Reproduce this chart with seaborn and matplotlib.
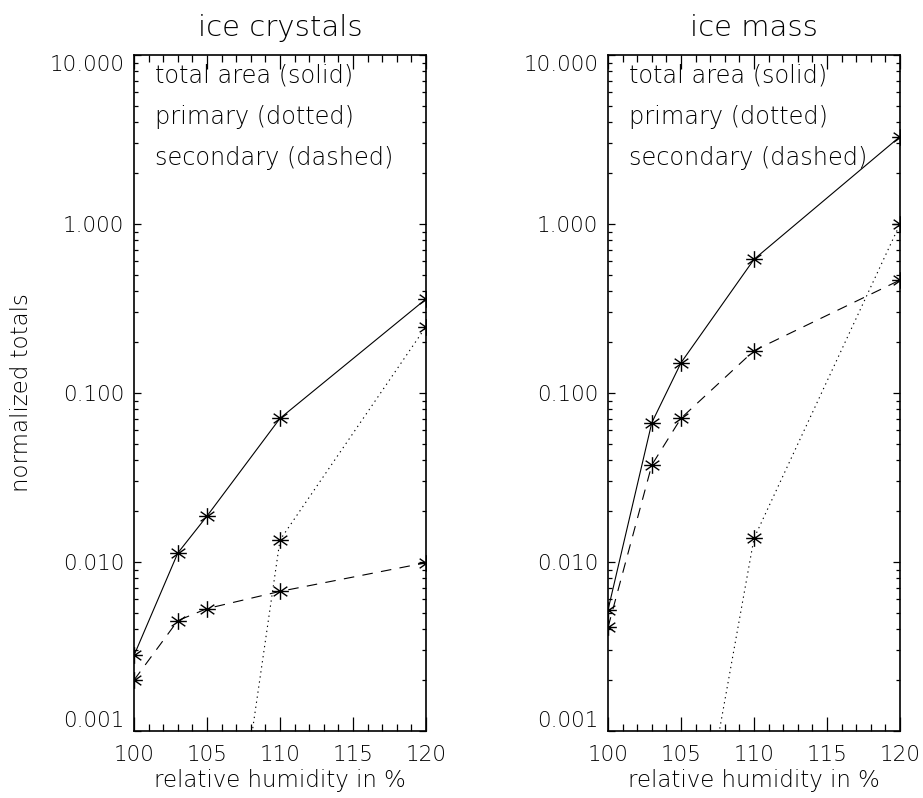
import numpy as np
import pandas as pd
import matplotlib
matplotlib.use("Agg")
import matplotlib.pyplot as plt
from matplotlib.path import Path
from matplotlib.ticker import (FixedLocator, FixedFormatter, MultipleLocator,
                               LogLocator, NullFormatter)
import seaborn as sns

# relative humidity (%) at which the runs were made
humidity = [100, 103, 105, 110, 120]
# primary ice only appears from 105 % on
primary_humidity = [105, 110, 120]

# ice crystals: normalized totals
crystals_total = [0.0028, 0.0113, 0.0187, 0.0708, 0.360]
crystals_primary = [1.4e-5, 0.0135, 0.247]
crystals_secondary = [0.0020, 0.0045, 0.0053, 0.0067, 0.0099]

# ice mass: normalized totals
mass_total = [0.0052, 0.0667, 0.151, 0.618, 3.29]
mass_primary = [5.5e-5, 0.0138, 1.00]
mass_secondary = [0.0041, 0.0375, 0.0709, 0.178, 0.466]

panel_titles = ["ice crystals", "ice mass"]
legend_lines = ["total area (solid)", "primary (dotted)", "secondary (dashed)"]
y_ticks = [0.001, 0.01, 0.1, 1.0, 10.0]
y_tick_labels = ["0.001", "0.010", "0.100", "1.000", "10.000"]
x_ticks = [100, 105, 110, 115, 120]
x_tick_labels = ["100", "105", "110", "115", "120"]
x_label = "relative humidity in %"
y_label = "normalized totals"


def panel_frame(total, primary, secondary):
    parts = [
        pd.DataFrame({"rh": humidity, "value": total, "kind": "total"}),
        pd.DataFrame({"rh": primary_humidity, "value": primary, "kind": "primary"}),
        pd.DataFrame({"rh": humidity, "value": secondary, "kind": "secondary"}),
    ]
    return pd.concat(parts, ignore_index=True)


sns.set_style("ticks")
plt.rcParams["font.family"] = ["DejaVu Sans"]
plt.rcParams["font.weight"] = "light"
plt.rcParams["axes.titleweight"] = "light"
plt.rcParams["axes.labelweight"] = "light"
plt.rcParams["text.color"] = "black"
plt.rcParams["axes.labelcolor"] = "black"
plt.rcParams["axes.titlecolor"] = "black"
plt.rcParams["axes.linewidth"] = 1.2

# asterisk symbol: vertical, horizontal and two slanted strokes
ang = np.deg2rad(35)
c, s = np.cos(ang), np.sin(ang)
asterisk = Path([(0, -1), (0, 1), (-1, 0), (1, 0), (-c, -s), (c, s), (-c, s), (c, -s)],
                [Path.MOVETO, Path.LINETO] * 4)

dash_styles = {"total": "", "primary": (1.2, 3.4), "secondary": (9.5, 7.5)}
marker_styles = {"total": asterisk, "primary": asterisk, "secondary": asterisk}

fig = plt.figure(figsize=(9.23, 7.98), dpi=100)
W, H = 923, 798
ax_w, ax_h = 292 / W, 676 / H
bottom = 67 / H
axes = [fig.add_axes([134 / W, bottom, ax_w, ax_h]),
        fig.add_axes([608 / W, bottom, ax_w, ax_h])]

frames = [panel_frame(crystals_total, crystals_primary, crystals_secondary),
          panel_frame(mass_total, mass_primary, mass_secondary)]

for i, (ax, df, title) in enumerate(zip(axes, frames, panel_titles)):
    sns.lineplot(data=df, x="rh", y="value", style="kind",
                 dashes=dash_styles, markers=marker_styles,
                 color="black", linewidth=0.8, markersize=12,
                 markeredgewidth=1.0, markeredgecolor="black",
                 markerfacecolor="black", legend=False, sort=False,
                 estimator=None, ax=ax)
    ax.set_yscale("log")
    ax.set_xlim(100, 120)
    ax.set_ylim(0.001, 10)

    ax.xaxis.set_major_locator(FixedLocator(x_ticks))
    ax.xaxis.set_major_formatter(FixedFormatter(x_tick_labels))
    ax.xaxis.set_minor_locator(MultipleLocator(1))
    ax.yaxis.set_major_locator(FixedLocator(y_ticks))
    ax.yaxis.set_major_formatter(FixedFormatter(y_tick_labels))
    ax.yaxis.set_minor_locator(LogLocator(base=10, subs=np.arange(2, 10)))
    ax.yaxis.set_minor_formatter(NullFormatter())

    ax.tick_params(axis="both", which="both", direction="in", top=True,
                   right=True, color="black", width=0.9, labelsize=15.5,
                   labelcolor="black")
    ax.tick_params(axis="x", which="major", length=10, pad=10)
    ax.tick_params(axis="x", which="minor", length=5)
    ax.tick_params(axis="y", which="major", length=5, pad=7)
    ax.tick_params(axis="y", which="minor", length=3)

    for sp in ax.spines.values():
        sp.set_visible(True)
        sp.set_color("black")

    yt = ax.yaxis.get_major_ticks()
    yt[0].label1.set_verticalalignment("bottom")
    yt[-1].label1.set_verticalalignment("top")

    ax.set_title(title, fontsize=21, pad=14)
    ax.set_xlabel(x_label, fontsize=16.5, labelpad=3)
    if i == 0:
        ax.set_ylabel(y_label, fontsize=16.5)
        ax.yaxis.set_label_coords(-0.346, 0.5)
    else:
        ax.set_ylabel("")

    for txt, yy in zip(legend_lines, [0.970, 0.908, 0.848]):
        ax.text(0.072, yy, txt, transform=ax.transAxes, fontsize=17.3,
                ha="left", va="center", color="black")

fig.savefig("out.png", dpi=100, facecolor="white")
